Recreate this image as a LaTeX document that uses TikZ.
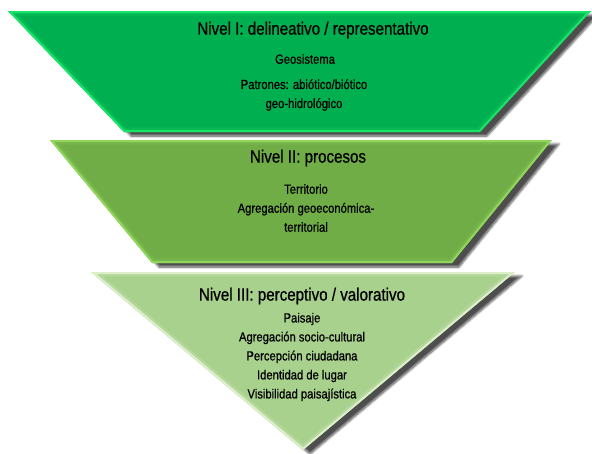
\documentclass[tikz,border=0pt]{standalone}
\usepackage{fontspec}
\setmainfont{Liberation Sans}[FakeStretch=0.85, FakeBold=0.8]
\usetikzlibrary{shadows.blur}

\definecolor{lvlone}{HTML}{00B050}
\definecolor{lvloneedge}{HTML}{20EE70}
\definecolor{lvltwo}{HTML}{70AD47}
\definecolor{lvltwoedge}{HTML}{98E060}
\definecolor{lvlthree}{HTML}{A9D18E}
\definecolor{lvlthreeedge}{HTML}{E6F6D6}

\begin{document}
\begin{tikzpicture}[
    x=1pt, y=-1pt,
    band/.style={
        blur shadow={shadow xshift=7pt, shadow yshift=-4pt,
                     shadow blur steps=8, shadow opacity=70}
    },
    title/.style={font=\fontsize{17.8}{20}\selectfont},
    body/.style={font=\fontsize{13.2}{19}\selectfont, align=center}
]
\useasboundingbox (0,0) rectangle (592,453);

% bands, top to bottom (the last one closes to a point)
\foreach \yt/\yb/\tl/\tr/\bl/\br/\col/\edge in {
    11/132/8/591/124/480/lvlone/lvloneedge,
    140/263/50/552/152/452/lvltwo/lvltwoedge,
    272/450/91/515/303/303/lvlthree/lvlthreeedge}{
    \fill[\col, band] (\tl,\yt) -- (\tr,\yt) -- (\br,\yb) -- (\bl,\yb) -- cycle;
    % bevelled rim
    \begin{scope}
        \clip (\tl,\yt) -- (\tr,\yt) -- (\br,\yb) -- (\bl,\yb) -- cycle;
        \draw[\edge, line width=4pt, line join=miter]
            (\tl,\yt) -- (\tr,\yt) -- (\br,\yb) -- (\bl,\yb) -- cycle;
        \draw[\edge!50!\col, line width=9pt, opacity=0.35, line join=miter]
            (\tl,\yt) -- (\tr,\yt) -- (\br,\yb) -- (\bl,\yb) -- cycle;
    \end{scope}
}

% level I
\node[title] (tone) at (313,30) {Nivel I: delineativo / representativo};
\node[body] (geo) at (305,59) {Geosistema};
\node[body] (patrones) at (304,95) {Patrones: abiótico/biótico\\geo-hidrológico};

% level II
\node[title] (ttwo) at (308,158) {Nivel II: procesos};
\node[body] (territorio) at (306,208) {Territorio\\Agregación geoeconómica-\\territorial};

% level III
\node[title] (tthree) at (302,296) {Nivel III: perceptivo / valorativo};
\node[body] (paisaje) at (302,357) {Paisaje\\Agregación socio-cultural\\Percepción ciudadana\\Identidad de lugar\\Visibilidad paisajística};
\end{tikzpicture}
\end{document}
